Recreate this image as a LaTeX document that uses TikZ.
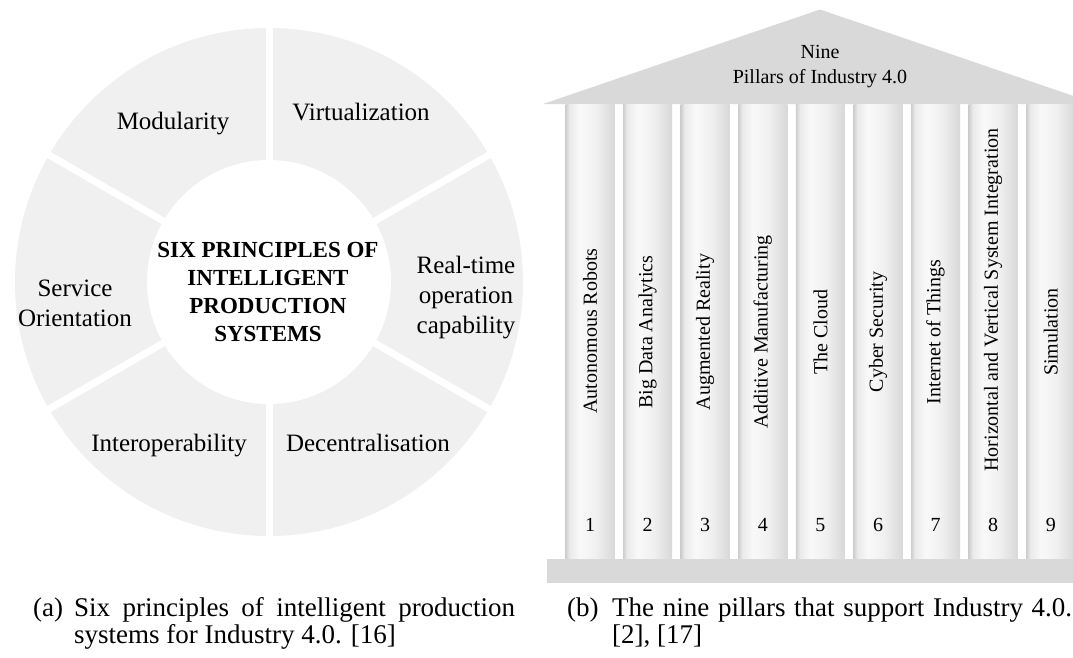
\documentclass[tikz,border=0pt]{standalone}
\usepackage{fontspec}
\setmainfont{Liberation Serif}
\definecolor{ringgray}{RGB}{240,240,240}
\definecolor{roofgray}{RGB}{217,217,217}
\definecolor{pilA}{RGB}{206,206,206}
\definecolor{pilB}{RGB}{234,234,234}
\definecolor{pilC}{RGB}{249,249,249}
\definecolor{pilD}{RGB}{240,240,240}
\definecolor{pilE}{RGB}{216,216,216}
% cylinder-like shading across a pillar (left to right)
\pgfdeclarehorizontalshading{pillarshade}{100bp}{color(0bp)=(pilA); color(25bp)=(pilA); color(29bp)=(pilB); color(40bp)=(pilC); color(56bp)=(pilD); color(75bp)=(pilE); color(100bp)=(pilE)}
\begin{document}
\begin{tikzpicture}[x=1pt,y=-1pt,
  ringlabel/.style={font=\fontsize{25}{30}\selectfont, anchor=base, align=center, inner sep=0pt},
  hublabel/.style={font=\fontsize{23}{27.7}\selectfont\bfseries, anchor=base, align=center, inner sep=0pt},
  pillarbox/.style={shading=pillarshade},
  pillartext/.style={font=\fontsize{20}{24}\selectfont, rotate=90, anchor=center, inner sep=0pt},
  pillarnum/.style={font=\fontsize{20}{24}\selectfont, anchor=base, inner sep=0pt},
  rooftext/.style={font=\fontsize{20}{25}\selectfont, anchor=base, align=center, inner sep=0pt},
  captag/.style={font=\fontsize{27}{27}\selectfont, anchor=base west, inner sep=0pt},
  captext/.style={font=\fontsize{27}{27}\selectfont, anchor=base west, align=left, inner sep=0pt}]
\useasboundingbox (0,0) rectangle (1073,657);
\clip (0,0) rectangle (1073,657);
\fill[white] (0,0) rectangle (1073,657);

% ---- (a) ring of six principles ----
\coordinate (hub) at (269,282);
\fill[ringgray] (hub) circle[radius=254];
\foreach \a in {90,30,-30,-90,150,210}
  \draw[white, line width=7pt] (hub) -- ++(\a:262);
\fill[white] (hub) circle[radius=122];

% multi-line labels are placed by the baseline of their last line
\node[hublabel] (title) at (268,341) {SIX PRINCIPLES OF\\INTELLIGENT\\PRODUCTION\\SYSTEMS};
\node[ringlabel] (modul) at (173,129) {Modularity};
\node[ringlabel] (virt) at (361,120) {Virtualization};
\node[ringlabel] (realt) at (466,333) {Real-time\\operation\\capability};
\node[ringlabel] (decen) at (368,451) {Decentralisation};
\node[ringlabel] (inter) at (169,451) {Interoperability};
\node[ringlabel] (serv) at (75,326) {Service\\Orientation};

% ---- (b) temple of nine pillars ----
\fill[roofgray] (543,104) -- (820,9.5) -- (1097,104) -- cycle;
\node[rooftext] (roof) at (820,83) {Nine\\Pillars of Industry 4.0};

\foreach \k/\txt/\ty in {1/Autonomous Robots/331, 2/Big Data Analytics/332, 3/Augmented Reality/332,
    4/Additive Manufacturing/332, 5/The Cloud/332, 6/Cyber Security/332,
    7/Internet of Things/332, 8/Horizontal and Vertical System Integration/300, 9/Simulation/332}{
  \pgfmathsetmacro{\xl}{565.5+(\k-1)*57.6}
  \pgfmathsetmacro{\xc}{\xl+24.5}
  \shade[pillarbox] (\xl,104) rectangle ++(49,455);
  \node[pillartext] (pil\k) at (\xc,\ty) {\txt};
  \node[pillarnum] (num\k) at (\xc,531) {\k};
}
\fill[roofgray] (547,559) rectangle (1093,583);

% ---- captions ----
\node[captag] (tagA) at (33,616) {(a)};
\node[captext] (capA) at (74,643) {\makebox[441pt][s]{Six principles of intelligent production}\\systems for Industry 4.0. [16]};
\node[captag] (tagB) at (567,616) {(b)};
\node[captext] (capB) at (612,643) {\makebox[460pt][s]{The nine pillars that support Industry 4.0.}\\{}[2], [17]};
\end{tikzpicture}
\end{document}
